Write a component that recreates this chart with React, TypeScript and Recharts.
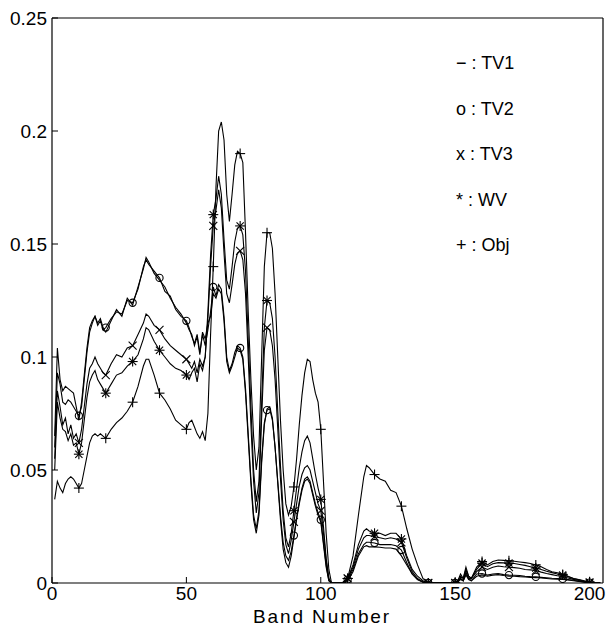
import React from 'react';
import { LineChart, Line, XAxis, YAxis } from 'recharts';

// Band numbers (x categories)
const bands = [
  1, 2, 3, 4, 5, 6, 7, 8, 9, 10, 11, 12, 13, 14, 15, 16, 17, 18, 19, 20,
  22, 24, 26, 28, 30, 32, 34, 35, 36, 38, 40, 42, 44, 46, 48, 50,
  51, 52, 53, 54, 55, 56,
  57, 58, 59, 60, 61, 62, 63, 64, 65, 66, 67, 68, 69, 70, 71, 72, 73, 74, 75, 76, 77, 78, 79, 80,
  81, 82, 83, 84, 85, 86, 87, 88, 89, 90, 91, 92, 93, 94, 95, 96, 97, 98, 99, 100, 101, 102, 103, 104,
  106, 108, 109, 110, 112, 114, 116, 117, 118, 120, 122, 124, 126, 128, 130, 132, 134, 136, 138, 140,
  142, 144, 146, 148, 150,
  151, 152, 153, 154, 155, 156, 158,
  160, 162, 164, 166, 168, 170, 172, 174, 176, 178, 180, 182, 184, 186, 188, 190, 192, 194, 196, 198, 200, 202, 204,
];

const tv1 = [
  0.065, 0.104, 0.09, 0.085, 0.087, 0.086, 0.085, 0.084, 0.078, 0.072, 0.08, 0.092, 0.104, 0.113, 0.116, 0.118, 0.115, 0.117, 0.113, 0.111,
  0.116, 0.121, 0.118, 0.126, 0.123, 0.131, 0.139, 0.144, 0.142, 0.137, 0.134, 0.131, 0.126, 0.122, 0.119, 0.115,
  0.112, 0.11, 0.105, 0.109, 0.101, 0.111,
  0.108, 0.115, 0.118, 0.128, 0.126, 0.13, 0.128, 0.116, 0.098, 0.093, 0.096, 0.1, 0.104, 0.103, 0.099, 0.084, 0.064, 0.044, 0.028, 0.022, 0.03, 0.053, 0.07, 0.077,
  0.078, 0.073, 0.06, 0.044, 0.028, 0.015, 0.009, 0.007, 0.012, 0.02, 0.028, 0.035, 0.041, 0.045, 0.046, 0.044, 0.039, 0.034, 0.03, 0.027, 0.017, 0.007, 0.001, 0,
  0, 0, 0.0005, 0.001, 0.005, 0.012, 0.016, 0.0165, 0.016, 0.016, 0.0158, 0.0155, 0.0155, 0.015, 0.012, 0.008, 0.004, 0.0015, 0.0003, 0,
  0, 0, 0, 0, 0,
  0.0005, 0.0015, 0.001, 0.0035, 0.0015, 0.001, 0.003,
  0.0036, 0.003, 0.0035, 0.0037, 0.0033, 0.003, 0.003, 0.0028, 0.0027, 0.0025, 0.0024, 0.0022, 0.002, 0.0018, 0.0017, 0.0016, 0.0013, 0.001, 0.0007, 0.0004, 0.0001, 0, 0,
];

const tv2 = [
  0.06, 0.093, 0.088, 0.08, 0.079, 0.081, 0.08, 0.078, 0.076, 0.074, 0.078, 0.09, 0.102, 0.111, 0.115, 0.118, 0.114, 0.116, 0.112, 0.113,
  0.117, 0.12, 0.119, 0.125, 0.124, 0.13, 0.14, 0.143, 0.141, 0.138, 0.135, 0.129, 0.127, 0.121, 0.118, 0.116,
  0.113, 0.109, 0.106, 0.11, 0.102, 0.11,
  0.105, 0.112, 0.12, 0.131, 0.127, 0.132, 0.13, 0.118, 0.1, 0.094, 0.097, 0.102, 0.105, 0.104, 0.1, 0.086, 0.066, 0.046, 0.03, 0.024, 0.032, 0.055, 0.071, 0.0765,
  0.077, 0.072, 0.06, 0.045, 0.03, 0.018, 0.012, 0.01, 0.014, 0.021, 0.029, 0.036, 0.042, 0.046, 0.047, 0.045, 0.04, 0.035, 0.031, 0.028, 0.018, 0.008, 0.001, 0,
  0, 0, 0.0005, 0.0015, 0.006, 0.013, 0.017, 0.018, 0.018, 0.0177, 0.017, 0.017, 0.017, 0.0165, 0.0146, 0.009, 0.004, 0.0015, 0.0005, 0,
  0, 0, 0, 0, 0,
  0.0005, 0.002, 0.001, 0.004, 0.002, 0.001, 0.004,
  0.0042, 0.0035, 0.004, 0.0042, 0.0037, 0.0035, 0.0034, 0.0033, 0.003, 0.0028, 0.0027, 0.0025, 0.0023, 0.0021, 0.002, 0.0018, 0.0015, 0.0012, 0.0008, 0.0005, 0.0002, 0, 0,
];

const tv3 = [
  0.055, 0.085, 0.078, 0.07, 0.073, 0.066, 0.07, 0.064, 0.066, 0.062, 0.068, 0.078, 0.088, 0.095, 0.097, 0.1, 0.097, 0.095, 0.093, 0.092,
  0.097, 0.101, 0.1, 0.104, 0.105, 0.11, 0.115, 0.119, 0.118, 0.114, 0.112, 0.108, 0.105, 0.103, 0.101, 0.099,
  0.097, 0.095, 0.098, 0.093, 0.099, 0.096,
  0.1, 0.117, 0.14, 0.158, 0.165, 0.174, 0.166, 0.146, 0.128, 0.124, 0.132, 0.141, 0.146, 0.147, 0.143, 0.128, 0.1, 0.07, 0.045, 0.031, 0.04, 0.073, 0.103, 0.113,
  0.112, 0.105, 0.09, 0.068, 0.046, 0.028, 0.017, 0.013, 0.019, 0.027, 0.035, 0.043, 0.048, 0.051, 0.052, 0.05, 0.045, 0.04, 0.035, 0.032, 0.022, 0.01, 0.002, 0,
  0, 0, 0.001, 0.002, 0.007, 0.015, 0.02, 0.021, 0.021, 0.0205, 0.02, 0.0195, 0.02, 0.0195, 0.018, 0.011, 0.005, 0.002, 0.0005, 0,
  0, 0, 0, 0, 0,
  0.001, 0.002, 0.001, 0.005, 0.002, 0.002, 0.005,
  0.007, 0.006, 0.007, 0.0075, 0.0072, 0.007, 0.0068, 0.0065, 0.006, 0.0058, 0.0055, 0.0048, 0.0042, 0.0037, 0.0032, 0.0028, 0.0022, 0.0016, 0.0011, 0.0006, 0.0002, 0, 0,
];

const wv = [
  0.05, 0.08, 0.073, 0.068, 0.067, 0.063, 0.066, 0.061, 0.062, 0.057, 0.062, 0.072, 0.082, 0.089, 0.092, 0.094, 0.09, 0.088, 0.086, 0.084,
  0.088, 0.092, 0.093, 0.096, 0.098, 0.101, 0.108, 0.113, 0.112, 0.107, 0.103, 0.1, 0.097, 0.095, 0.094, 0.092,
  0.09, 0.093, 0.095, 0.089, 0.097, 0.094,
  0.1, 0.12, 0.145, 0.163, 0.17, 0.18, 0.172, 0.152, 0.134, 0.13, 0.14, 0.151, 0.157, 0.158, 0.154, 0.138, 0.108, 0.078, 0.05, 0.036, 0.045, 0.08, 0.113, 0.125,
  0.124, 0.117, 0.1, 0.076, 0.052, 0.032, 0.02, 0.016, 0.022, 0.032, 0.042, 0.051, 0.058, 0.063, 0.065, 0.062, 0.055, 0.048, 0.042, 0.037, 0.025, 0.011, 0.002, 0,
  0, 0, 0.001, 0.002, 0.008, 0.017, 0.023, 0.024, 0.023, 0.022, 0.022, 0.021, 0.022, 0.022, 0.0195, 0.012, 0.006, 0.003, 0.001, 0,
  0, 0, 0, 0, 0,
  0.001, 0.003, 0.002, 0.006, 0.003, 0.002, 0.006,
  0.0088, 0.0072, 0.0085, 0.009, 0.0089, 0.0088, 0.0086, 0.0082, 0.0078, 0.0072, 0.0066, 0.006, 0.0052, 0.0046, 0.004, 0.0035, 0.0028, 0.002, 0.0014, 0.0008, 0.0003, 0, 0,
];

const obj = [
  0.037, 0.045, 0.042, 0.04, 0.044, 0.046, 0.047, 0.046, 0.044, 0.042, 0.044, 0.05, 0.056, 0.062, 0.065, 0.066, 0.065, 0.066, 0.065, 0.064,
  0.068, 0.071, 0.073, 0.076, 0.08, 0.087, 0.096, 0.099, 0.099, 0.092, 0.084, 0.081, 0.077, 0.072, 0.07, 0.068,
  0.071, 0.072, 0.069, 0.066, 0.064, 0.067,
  0.063, 0.075, 0.11, 0.14, 0.175, 0.2, 0.204, 0.196, 0.172, 0.16, 0.172, 0.185, 0.191, 0.19, 0.186, 0.155, 0.12, 0.09, 0.065, 0.05, 0.06, 0.1, 0.14, 0.155,
  0.155, 0.148, 0.128, 0.1, 0.072, 0.05, 0.035, 0.03, 0.034, 0.0425, 0.055, 0.07, 0.083, 0.093, 0.099, 0.098, 0.09, 0.084, 0.08, 0.068, 0.045, 0.022, 0.006, 0,
  0, 0, 0.001, 0.002, 0.012, 0.03, 0.047, 0.052, 0.051, 0.048, 0.046, 0.045, 0.041, 0.04, 0.034, 0.024, 0.015, 0.008, 0.002, 0,
  0, 0, 0, 0, 0,
  0.001, 0.004, 0.002, 0.007, 0.003, 0.002, 0.007,
  0.0095, 0.008, 0.0095, 0.0102, 0.01, 0.0098, 0.0096, 0.0093, 0.009, 0.0086, 0.008, 0.0072, 0.006, 0.005, 0.0045, 0.0038, 0.003, 0.002, 0.0015, 0.001, 0.0005, 0, 0,
];

const xTicks = [0, 50, 100, 150, 200];
const yTicks = [0, 0.05, 0.1, 0.15, 0.2, 0.25];
const yTickLabels = ['0', '0.05', '0.1', '0.15', '0.2', '0.25'];
const legendLabels = ['\u2212 : TV1', 'o : TV2', 'x : TV3', '* : WV', '+ : Obj'];
const xLabel = 'Band Number';

const data = bands.map((b, i) => ({
  band: b,
  tv1: tv1[i],
  tv2: tv2[i],
  tv3: tv3[i],
  wv: wv[i],
  obj: obj[i],
}));

const FONT = '"Liberation Sans", Arial, Helvetica, sans-serif';
const INK = '#000';

type Kind = 'o' | 'x' | '*' | '+';

const makeDot = (kind: Kind) => (props: any) => {
  const { cx, cy, payload, index } = props;
  const key = `${kind}-${index}`;
  if (cx == null || cy == null || !payload || payload.band % 10 !== 0) {
    return <g key={key} />;
  }
  const s = 4;
  if (kind === 'o') {
    return <circle key={key} cx={cx} cy={cy} r={3.6} fill="none" stroke={INK} strokeWidth={1.1} />;
  }
  if (kind === 'x') {
    return (
      <g key={key} stroke={INK} strokeWidth={1.1}>
        <line x1={cx - s} y1={cy - s} x2={cx + s} y2={cy + s} />
        <line x1={cx - s} y1={cy + s} x2={cx + s} y2={cy - s} />
      </g>
    );
  }
  if (kind === '+') {
    return (
      <g key={key} stroke={INK} strokeWidth={1.1}>
        <line x1={cx - 5} y1={cy} x2={cx + 5} y2={cy} />
        <line x1={cx} y1={cy - 5} x2={cx} y2={cy + 5} />
      </g>
    );
  }
  return (
    <g key={key} stroke={INK} strokeWidth={1.1}>
      <line x1={cx - 5} y1={cy} x2={cx + 5} y2={cy} />
      <line x1={cx} y1={cy - 5} x2={cx} y2={cy + 5} />
      <line x1={cx - 3.6} y1={cy - 3.6} x2={cx + 3.6} y2={cy + 3.6} />
      <line x1={cx - 3.6} y1={cy + 3.6} x2={cx + 3.6} y2={cy - 3.6} />
    </g>
  );
};

const tickStyle = { fill: INK, fontSize: 19, fontFamily: FONT };

export default function App() {
  return (
    <div style={{ position: 'absolute', left: 0, top: 0, width: 616, height: 627, background: '#fff' }}>
      <LineChart
        width={616}
        height={627}
        data={data}
        margin={{ top: 17, right: 12, bottom: 0, left: 0 }}
      >
        <XAxis
          dataKey="band"
          type="number"
          domain={[0, 205]}
          ticks={xTicks}
          interval={0}
          height={44}
          tickSize={-6}
          tickMargin={10}
          tick={tickStyle}
          stroke={INK}
          axisLine={{ stroke: INK, strokeWidth: 1.2 }}
          tickLine={{ stroke: INK }}
          allowDataOverflow
        />
        <XAxis
          xAxisId="top"
          orientation="top"
          dataKey="band"
          type="number"
          domain={[0, 205]}
          ticks={xTicks}
          interval={0}
          height={1}
          tickSize={-6}
          tick={false}
          stroke={INK}
          axisLine={{ stroke: INK, strokeWidth: 1.2 }}
          tickLine={{ stroke: INK }}
          allowDataOverflow
        />
        <YAxis
          type="number"
          domain={[0, 0.25]}
          ticks={yTicks}
          interval={0}
          width={52}
          tickSize={-6}
          tickMargin={11}
          tick={tickStyle}
          tickFormatter={(v: number) => yTickLabels[yTicks.indexOf(v)] ?? String(v)}
          stroke={INK}
          axisLine={{ stroke: INK, strokeWidth: 1.2 }}
          tickLine={{ stroke: INK }}
          allowDataOverflow
        />
        <YAxis
          yAxisId="right"
          orientation="right"
          type="number"
          domain={[0, 0.25]}
          ticks={yTicks}
          interval={0}
          width={1}
          tickSize={-6}
          tick={false}
          stroke={INK}
          axisLine={{ stroke: INK, strokeWidth: 1.2 }}
          tickLine={{ stroke: INK }}
          allowDataOverflow
        />
        {/* invisible companion series that binds the mirrored top/right axes of the box */}
        <Line xAxisId="top" yAxisId="right" dataKey="tv1" type="linear" stroke="none" strokeWidth={0} dot={false} activeDot={false} legendType="none" isAnimationActive={false} />
        <Line dataKey="tv1" type="linear" stroke={INK} strokeWidth={1.1} dot={false} activeDot={false} isAnimationActive={false} />
        <Line dataKey="tv2" type="linear" stroke={INK} strokeWidth={1.1} dot={makeDot('o')} activeDot={false} isAnimationActive={false} />
        <Line dataKey="tv3" type="linear" stroke={INK} strokeWidth={1.1} dot={makeDot('x')} activeDot={false} isAnimationActive={false} />
        <Line dataKey="wv" type="linear" stroke={INK} strokeWidth={1.1} dot={makeDot('*')} activeDot={false} isAnimationActive={false} />
        <Line dataKey="obj" type="linear" stroke={INK} strokeWidth={1.1} dot={makeDot('+')} activeDot={false} isAnimationActive={false} />
        <g fontFamily={FONT} fill={INK}>
          {legendLabels.map((t, i) => (
            <text key={t} x={456} y={69 + i * 45.5} fontSize={18}>{t}</text>
          ))}
          <text x={322} y={623} textAnchor="middle" fontSize={19} letterSpacing={1.9}>{xLabel}</text>
        </g>
      </LineChart>
    </div>
  );
}
